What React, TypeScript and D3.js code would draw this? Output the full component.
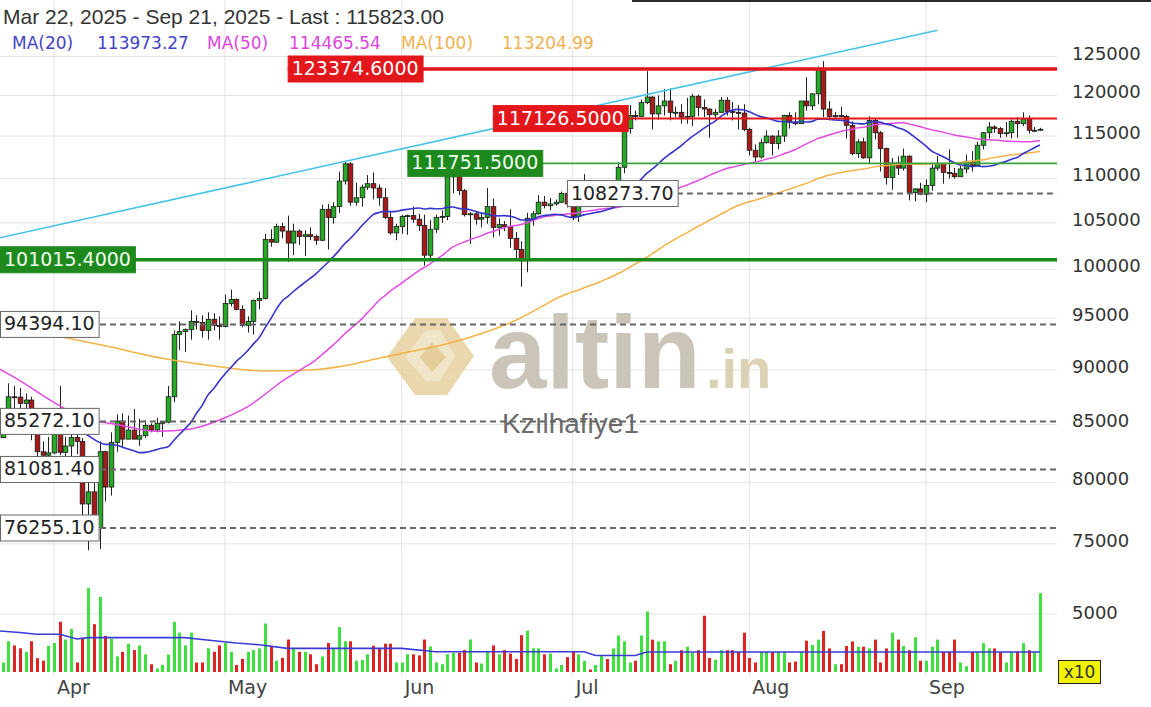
import React, { useEffect } from "react";
import * as d3 from "d3";

// ---------- DATA (prices in thousands USD, daily from 2025-03-22) ----------
const startDate = "2025-03-22";
const firstOpen = 84.05;
const closes = [
  83.83, 86.05, 87.5, 87.47, 86.9, 87.2, 84.35, 82.6, 82.3, 82.5,
  85.2, 82.55, 83.1, 83.85, 83.5, 78.2, 79.2, 76.3, 82.6, 79.6, 83.4, 85.3, 83.7, 84.5, 83.7, 84.0, 84.9, 84.5, 85.1, 85.2, 87.5, 93.4, 93.7, 93.9, 94.7, 94.6, 93.8, 94.9, 94.3, 94.2,
  96.5, 96.9, 95.9, 94.3, 94.7, 96.8, 97.0, 103.2, 102.9, 104.6, 104.1, 102.8, 104.1, 103.5, 103.7, 103.5, 103.1, 106.5, 105.6, 106.8, 109.7, 111.7, 107.3, 107.8, 109.0, 109.4, 108.9, 107.8, 105.6, 103.9, 104.6,
  105.7, 105.8, 105.4, 104.7, 101.5, 104.3, 105.6, 105.7, 110.2, 110.3, 108.6, 105.9, 106.0, 105.4, 105.6, 106.8, 104.5, 104.8, 104.6, 103.3, 102.1, 100.9, 105.5, 106.0, 107.3, 106.9, 107.1, 107.3, 108.3, 107.1,
  105.7, 108.8, 109.6, 108.0, 108.2, 109.2, 108.2, 108.9, 111.3, 115.9, 117.5, 117.4, 119.1, 119.8, 117.7, 118.7, 119.3, 117.9, 117.9, 117.3, 117.4, 119.9, 118.5, 118.3, 117.6, 117.9, 119.4, 118.0, 117.9, 117.8, 115.8,
  113.3, 112.5, 114.2, 115.0, 114.1, 115.0, 117.5, 116.7, 116.5, 119.3, 118.7, 120.2, 123.3, 118.3, 117.4, 117.5, 117.4, 116.3, 112.9, 114.3, 112.4, 116.9, 115.4, 113.5, 110.1, 111.8, 111.2, 112.6, 108.4, 108.8, 108.2,
  109.2, 111.2, 111.7, 110.7, 110.6, 110.2, 111.1, 112.0, 111.5, 113.9, 115.4, 116.1, 115.9, 115.3, 115.4, 116.8, 116.5, 117.1, 115.7, 115.7, 115.823,
];
const highs = [
  84.5, 86.1, 88.75, 88.5, 88.3, 87.8, 87.5, 84.6, 83.5, 83.9,
  85.5, 88.5, 83.9, 84.7, 84.2, 83.8, 81.1, 80.8, 83.5, 82.7, 84.3, 85.9, 86.0, 85.8, 86.4, 85.5, 85.4, 85.1, 85.6, 85.3, 88.5, 93.8, 94.7, 94.0, 95.8, 95.3, 95.3, 95.6, 95.5, 95.2,
  97.4, 97.9, 97.0, 96.3, 95.2, 96.9, 97.7, 103.8, 104.3, 104.9, 105.0, 105.8, 104.9, 104.3, 104.2, 104.5, 103.7, 107.0, 107.1, 107.3, 110.8, 111.9, 111.9, 109.5, 109.3, 110.4, 110.7, 109.3, 108.9, 106.3, 104.9,
  105.9, 105.9, 106.8, 106.0, 105.9, 105.3, 105.9, 106.4, 110.5, 110.4, 110.4, 108.8, 106.2, 106.2, 106.0, 108.9, 107.7, 105.5, 105.2, 106.5, 104.0, 103.0, 106.1, 106.3, 108.1, 108.0, 107.8, 107.6, 108.5, 108.8,
  107.5, 109.6, 110.5, 109.8, 108.5, 109.7, 109.7, 109.2, 111.9, 116.8, 118.8, 118.1, 119.5, 123.1, 119.9, 120.0, 120.8, 120.9, 118.6, 118.9, 119.7, 120.2, 120.1, 119.5, 118.4, 118.3, 119.8, 119.8, 119.2, 118.8, 118.9,
  116.0, 114.0, 114.7, 115.7, 115.1, 115.7, 117.6, 117.9, 117.9, 119.3, 122.3, 120.3, 123.7, 124.4, 119.3, 117.9, 118.6, 117.6, 116.8, 114.6, 114.8, 117.4, 117.2, 115.6, 113.6, 112.4, 112.6, 113.5, 112.7, 108.9, 109.5,
  109.9, 111.8, 112.6, 111.8, 113.4, 111.2, 111.5, 112.8, 113.2, 114.3, 115.5, 116.7, 116.3, 116.1, 116.7, 117.0, 117.3, 117.9, 117.5, 116.1, 116.0,
];
const lows = [
  83.65, 83.8, 85.55, 86.3, 85.9, 85.9, 83.6, 81.65, 81.6, 81.3,
  82.4, 82.3, 81.2, 81.7, 82.4, 77.3, 74.5, 76.2, 74.6, 78.4, 78.9, 82.6, 83.0, 83.7, 83.7, 83.1, 83.8, 84.3, 84.3, 83.9, 85.1, 87.0, 91.9, 91.7, 92.9, 93.9, 93.1, 92.9, 93.8, 92.9,
  94.1, 96.2, 95.8, 94.1, 93.6, 93.4, 95.9, 96.9, 102.4, 102.8, 103.3, 100.8, 101.5, 102.6, 101.4, 103.1, 102.6, 103.0, 102.1, 104.9, 106.1, 109.3, 106.9, 106.9, 106.8, 108.7, 107.6, 106.9, 105.4, 103.7, 103.1,
  103.8, 103.7, 105.0, 104.1, 100.4, 101.1, 103.9, 105.0, 105.3, 108.3, 108.1, 105.7, 102.7, 104.8, 104.5, 104.9, 103.4, 103.6, 104.1, 102.3, 100.9, 98.2, 99.7, 104.7, 105.9, 106.6, 106.4, 106.9, 107.2, 106.7,
  105.3, 105.1, 108.6, 107.3, 107.8, 107.8, 107.5, 107.4, 108.4, 110.6, 115.3, 116.9, 117.3, 118.9, 115.8, 117.0, 117.5, 116.9, 117.3, 116.5, 116.5, 116.2, 117.4, 117.3, 114.8, 117.2, 117.8, 117.5, 116.9, 115.8, 115.6,
  112.7, 112.0, 112.3, 114.1, 112.7, 113.4, 114.3, 115.9, 116.3, 116.5, 118.1, 118.2, 118.9, 117.3, 116.9, 117.2, 117.3, 114.7, 112.7, 112.4, 112.3, 111.7, 114.6, 110.8, 109.3, 108.7, 110.4, 110.9, 107.5, 107.4, 108.1,
  107.3, 108.6, 110.9, 109.4, 110.0, 110.0, 110.2, 110.6, 110.8, 111.5, 113.4, 114.7, 115.4, 114.8, 114.9, 114.7, 114.8, 116.2, 115.3, 115.5, 115.6,
];
// volume (axis units, x10)
const volumes = [
  1500, 820, 2650, 2290, 2040, 1740, 2650, 1190, 975, 2260,
  2500, 4330, 2800, 3720, 820, 2960, 7230, 4120, 6470, 3110, 2870, 1340, 1740, 2440, 1890, 2290, 1525, 670, 300, 610, 1500, 4330, 3400, 2290, 3400, 820, 820, 2040, 1740, 2290,
  2500, 1740, 610, 1130, 1740, 1890, 2040, 4180, 2200, 975, 1220, 2800, 2040, 1740, 1740, 1525, 670, 1340, 2500, 2040, 3870, 2650, 2650, 975, 1040, 1525, 2260, 2040, 2440, 2440, 820,
  820, 1525, 1525, 1430, 2800, 2200, 820, 670, 1525, 1650, 1650, 1890, 2800, 820, 730, 1740, 2290, 1525, 1890, 1590, 1130, 3180, 3560, 2040, 2040, 1525, 1590, 300, 610, 1280,
  1740, 1515, 970, 210, 600, 1420, 1120, 2030, 3150, 2640, 820, 970, 3150, 5210, 2790, 2640, 2640, 670, 970, 1880, 2180, 1640, 1880, 4850, 1210, 1060, 1880, 1880, 1880, 1730, 3390,
  1210, 820, 1730, 1730, 1730, 1730, 1730, 820, 900, 1730, 2700, 2330, 2790, 3540, 2030, 670, 670, 2240, 2640, 2180, 2180, 2030, 2790, 820, 2030, 3390, 2790, 2240, 1880, 3000, 970,
  970, 2180, 2790, 1730, 1730, 2790, 820, 500, 1730, 1730, 2490, 2030, 2030, 1730, 820, 1730, 1730, 2490, 1880, 1730, 6790,
];

const ma20EarlyDates = ["2025-03-22", "2025-03-28", "2025-04-02", "2025-04-06"];
const ma20EarlyValues = [84.8, 85.3, 85.0, 84.3];
const ma50EarlyDates = ["2025-03-22", "2025-03-26", "2025-03-31", "2025-04-06", "2025-04-12", "2025-04-19", "2025-04-25", "2025-05-01", "2025-05-05"];
const ma50EarlyValues = [90.2, 89.0, 87.3, 85.6, 85.0, 84.4, 84.6, 85.6, 86.6];
const ma100EarlyDates = ["2025-04-02", "2025-04-10", "2025-04-20", "2025-04-30", "2025-05-08", "2025-05-16", "2025-05-22", "2025-05-28", "2025-06-03", "2025-06-09", "2025-06-15", "2025-06-21", "2025-06-25"];
const ma100EarlyValues = [93.2, 92.3, 91.1, 90.3, 89.9, 90.0, 90.4, 91.1, 91.8, 92.5, 93.5, 94.8, 96.0];
const volMaDates = ["2025-03-22", "2025-03-26", "2025-03-29", "2025-04-02", "2025-04-05", "2025-04-07", "2025-04-24", "2025-04-27", "2025-04-30", "2025-05-03", "2025-05-07", "2025-05-12", "2025-06-01", "2025-06-07", "2025-07-03", "2025-07-05", "2025-07-12", "2025-07-14", "2025-09-21"];
const volMaValues = [3550, 3400, 3260, 3260, 2850, 2960, 2960, 2800, 2650, 2500, 2350, 2040, 2040, 1740, 1740, 1420, 1420, 1730, 1730];

// Trend line (two anchor points, thousands)
const trendDates = ["2025-03-22", "2025-09-03"];
const trendValues = [103.3, 128.5];

// Horizontal levels
const levelValues = [123374.6, 117126.5, 111751.5, 108273.7, 101015.4, 94394.1, 85272.1, 81081.4, 76255.1];
const levelLabels = ["123374.6000", "117126.5000", "111751.5000", "108273.70", "101015.4000", "94394.10", "85272.10", "81081.40", "76255.10"];
const levelStarts: (string | null)[] = ["2025-05-12", "2025-06-17", "2025-06-02", "2025-06-30", null, null, null, null, null];
const levelKinds = ["majorRes", "res", "sup", "mark", "majorSup", "mark", "mark", "mark", "mark"];

const priceTicks = [125000, 120000, 115000, 110000, 105000, 100000, 95000, 90000, 85000, 80000, 75000];
const volumeTicks = [5000];
const monthDates = ["2025-04-01", "2025-05-01", "2025-06-01", "2025-07-01", "2025-08-01", "2025-09-01"];
const monthLabels = ["Apr", "May", "Jun", "Jul", "Aug", "Sep"];

const titleText = "Mar 22, 2025 - Sep 21, 2025 - Last : 115823.00";
const maNames = ["MA(20)", "MA(50)", "MA(100)"];
const maLast = ["113973.27", "114465.54", "113204.99"];

// ---------- HELPERS ----------
const K = 1000;
const pd = (s: string) => new Date(s + "T00:00:00Z");
const textW = (s: string, fs: number) =>
  d3.sum(s.split(""), (c) => (c === "." ? 0.318 : 0.636)) * fs;

export default function App() {
  useEffect(() => {
    document.body.style.margin = "0";
  }, []);

  const W = 1151, H = 707;
  const plotR = 1057;
  const x = d3.scaleUtc().domain([pd("2025-04-01"), pd("2025-09-01")]).range([54, 926]);
  const y = d3.scaleLog().domain([76255.1, 123374.6]).range([528, 69]);
  const yv = d3.scaleLinear().domain([0, 5000]).range([672, 614]);

  const d0 = pd(startDate);
  const candles = closes.map((c, i) => {
    const o = (i === 0 ? firstOpen : closes[i - 1]) * K;
    const cl = c * K;
    return {
      date: d3.utcDay.offset(d0, i),
      o,
      c: cl,
      h: Math.max(highs[i] * K, o, cl),
      l: Math.min(lows[i] * K, o, cl),
      v: volumes[i],
    };
  });

  const sma = (n: number, earlyD: string[], earlyV: number[]) => {
    const pts: { date: Date; v: number }[] = earlyD.map((d, i) => ({ date: pd(d), v: earlyV[i] * K }));
    for (let i = n - 1; i < closes.length; i++) {
      pts.push({ date: candles[i].date, v: (d3.mean(closes.slice(i - n + 1, i + 1)) as number) * K });
    }
    return pts;
  };
  const ma20 = sma(20, ma20EarlyDates, ma20EarlyValues);
  const ma50 = sma(50, ma50EarlyDates, ma50EarlyValues);
  const ma100 = sma(100, ma100EarlyDates, ma100EarlyValues);

  const priceLine = d3
    .line<{ date: Date; v: number }>()
    .x((d) => x(d.date))
    .y((d) => y(d.v))
    .curve(d3.curveMonotoneX);
  const volLine = d3
    .line<{ date: Date; v: number }>()
    .x((d) => x(d.date))
    .y((d) => yv(d.v));
  const volMa = volMaDates.map((d, i) => ({ date: pd(d), v: volMaValues[i] }));
  const trend = trendDates.map((d, i) => ({ date: pd(d), v: trendValues[i] * K }));

  const maColors = ["#3535cc", "#e24ae2", "#f4b247"];
  const maTextColors = ["#4444c8", "#dd44dd", "#efb14f"];
  const maXs = [[12, 97], [207, 289], [401, 502]];

  const gridColor = "#e3e3e3";
  const axisFont = "'DejaVu Sans', Verdana, sans-serif";
  const bodyW = 4.6;

  const levelStyle = (k: string) => {
    switch (k) {
      case "majorRes":
        return { fill: "#e3161b", text: "#ffffff", line: "#e3161b", w: 3.5, dash: null, stroke: "#e3161b" };
      case "res":
        return { fill: "#e3161b", text: "#ffffff", line: "#e3161b", w: 2, dash: null, stroke: "#e3161b" };
      case "sup":
        return { fill: "#1e8a1e", text: "#f0fff0", line: "#3ba33b", w: 1.6, dash: null, stroke: "#1e8a1e" };
      case "majorSup":
        return { fill: "#1e8a1e", text: "#f0fff0", line: "#1a8a1a", w: 3.5, dash: null, stroke: "#1e8a1e" };
      default:
        return { fill: "#ffffff", text: "#222222", line: "#666666", w: 2, dash: "6 4", stroke: "#666666" };
    }
  };

  return (
    <svg width={W} height={H} style={{ display: "block", background: "#fff" }} fontFamily={axisFont}>
      <defs>
        <clipPath id="pricePanel">
          <rect x={0} y={0} width={plotR} height={578} />
        </clipPath>
        <clipPath id="volPanel">
          <rect x={0} y={580} width={plotR} height={96} />
        </clipPath>
      </defs>

      {/* grid */}
      {priceTicks.map((t) => (
        <line key={"g" + t} x1={0} x2={plotR} y1={y(t)} y2={y(t)} stroke={gridColor} strokeWidth={1} />
      ))}
      {volumeTicks.map((t) => (
        <line key={"gv" + t} x1={0} x2={plotR} y1={yv(t)} y2={yv(t)} stroke={gridColor} strokeWidth={1} />
      ))}
      {monthDates.map((m) => (
        <line key={"gm" + m} x1={x(pd(m))} x2={x(pd(m))} y1={0} y2={676} stroke={gridColor} strokeWidth={1} />
      ))}

      {/* watermark */}
      <g>
        <polygon points="387,357 415,318 447,318 474,356 447,395 415,395" fill="#e8d0a0" opacity={0.85} />
        <polygon points="405,357 426,330 440,330 455,356 440,381 426,381" fill="#f2e7cc" opacity={0.9} />
        <polygon points="420,357 432,342 446,357 432,372" fill="#e3cb95" opacity={0.9} />
        <text x={489} y={388} fontFamily="'Liberation Sans', Arial, sans-serif" fontWeight="bold" fontSize={103} fill="#cbc4b9">
          altin
        </text>
        <text x={706} y={388} fontFamily="'Liberation Sans', Arial, sans-serif" fontWeight="bold" fontSize={56} fill="#ddd1b3">
          .in
        </text>
        <text x={502} y={433} fontFamily="'Liberation Sans', Arial, sans-serif" fontSize={28} fill="#6b6b6b" dominantBaseline="auto">
          Kzılhafiye1
        </text>
      </g>

      {/* price panel */}
      <g clipPath="url(#pricePanel)">
        {candles.map((d, i) => {
          const up = d.c >= d.o;
          const cx = Math.round(x(d.date)) + 0.5;
          const top = y(Math.max(d.o, d.c));
          const bot = y(Math.min(d.o, d.c));
          return (
            <g key={"c" + i}>
              <line x1={cx} x2={cx} y1={y(d.h)} y2={y(d.l)} stroke="#222" strokeWidth={1} />
              <rect
                x={cx - bodyW / 2}
                y={top}
                width={bodyW}
                height={Math.max(bot - top, 1)}
                fill={up ? "#24ab24" : "#a81818"}
                stroke="#1a1a1a"
                strokeWidth={0.8}
              />
            </g>
          );
        })}
        <path d={priceLine(ma100) || ""} fill="none" stroke={maColors[2]} strokeWidth={1.5} />
        <path d={priceLine(ma50) || ""} fill="none" stroke={maColors[1]} strokeWidth={1.5} />
        <path d={priceLine(ma20) || ""} fill="none" stroke={maColors[0]} strokeWidth={1.6} />
        <line x1={x(trend[0].date)} y1={y(trend[0].v)} x2={x(trend[1].date)} y2={y(trend[1].v)} stroke="#45c3e6" strokeWidth={1.6} />

        {levelValues.map((v, i) => {
          const st = levelStyle(levelKinds[i]);
          const bx = levelStarts[i] ? x(pd(levelStarts[i] as string)) : 0;
          const ly = y(v);
          return (
            <line
              key={"l" + i}
              x1={bx}
              x2={plotR}
              y1={ly}
              y2={ly}
              stroke={st.line}
              strokeWidth={st.w}
              strokeDasharray={st.dash || undefined}
            />
          );
        })}
        {levelValues.map((v, i) => {
          const st = levelStyle(levelKinds[i]);
          const bx = levelStarts[i] ? x(pd(levelStarts[i] as string)) : 0;
          const ly = y(v);
          const fs = 19;
          const w = textW(levelLabels[i], fs) + 8;
          return (
            <g key={"lb" + i}>
              <rect x={bx + 0.5} y={ly - 13} width={w} height={26} fill={st.fill} stroke={st.stroke} strokeWidth={1} />
              <text x={bx + 4} y={ly + 0.5} dominantBaseline="middle" fontSize={fs} fill={st.text}>
                {levelLabels[i]}
              </text>
            </g>
          );
        })}
      </g>

      {/* volume panel */}
      <g clipPath="url(#volPanel)">
        {candles.map((d, i) => {
          const up = d.c >= d.o;
          const cx = Math.round(x(d.date));
          return (
            <rect
              key={"v" + i}
              x={cx - 1}
              y={yv(d.v)}
              width={3}
              height={yv(0) - yv(d.v)}
              fill={up ? "#3ee03e" : "#e02222"}
            />
          );
        })}
        <path d={volLine(volMa) || ""} fill="none" stroke="#3a3ad8" strokeWidth={1.6} />
      </g>

      {/* right axis */}
      {priceTicks.map((t) => (
        <text key={"t" + t} x={1072} y={y(t) - 2} dominantBaseline="middle" fontSize={18} fill="#333">
          {t}
        </text>
      ))}
      {volumeTicks.map((t) => (
        <text key={"tv" + t} x={1072} y={yv(t)} dominantBaseline="middle" fontSize={18} fill="#333">
          {t}
        </text>
      ))}
      <rect x={1058.5} y={660.5} width={42} height={23} fill="#f2f200" stroke="#222" strokeWidth={1} />
      <text x={1079.5} y={672.5} textAnchor="middle" dominantBaseline="middle" fontSize={17} fill="#333">
        x10
      </text>

      {/* month labels */}
      {monthDates.map((m, i) => (
        <text key={"m" + m} x={x(pd(m)) + 3} y={688} dominantBaseline="middle" fontSize={19} fill="#444">
          {monthLabels[i]}
        </text>
      ))}

      {/* top frame edge */}
      <rect x={632} y={0} width={W - 632} height={2} fill="#2a2a2a" />

      {/* header */}
      <text x={3} y={18} dominantBaseline="middle" fontFamily="'Liberation Sans', Arial, sans-serif" fontSize={21} fill="#333">
        {titleText}
      </text>
      {maNames.map((n, i) => (
        <g key={"ma" + i}>
          <text x={maXs[i][0]} y={44} dominantBaseline="middle" fontSize={17} fill={maTextColors[i]}>
            {n}
          </text>
          <text x={maXs[i][1]} y={44} dominantBaseline="middle" fontSize={17} fill={maTextColors[i]}>
            {maLast[i]}
          </text>
        </g>
      ))}
    </svg>
  );
}
